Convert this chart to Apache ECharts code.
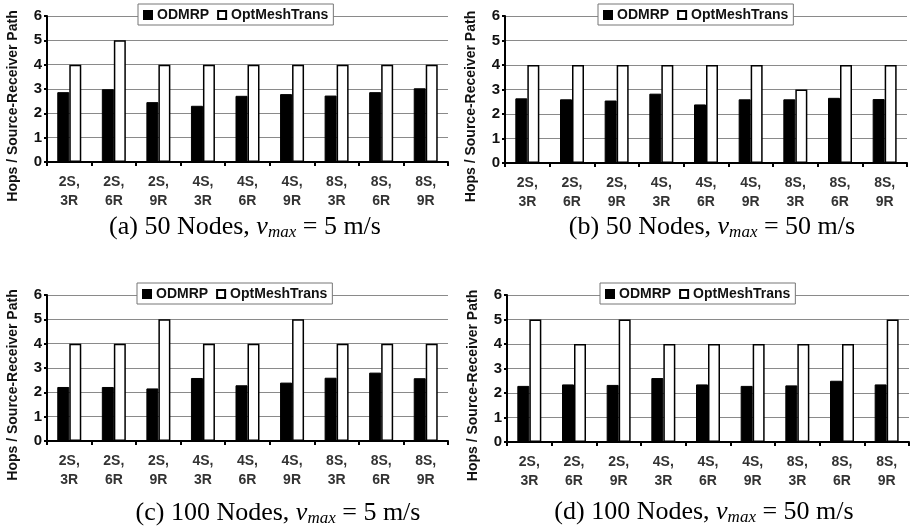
<!DOCTYPE html>
<html>
<head>
<meta charset="utf-8">
<script src="https://cdn.jsdelivr.net/npm/echarts@6/dist/echarts.min.js"></script>
<style>
    html, body { margin: 0; padding: 0; background: #fff; }
    #chart { width: 911px; height: 528px; }
</style>
</head>
<body>
<div id="chart"></div>
<script>
(function () {

    'use strict';

    // x categories: sources, receivers
    var categories = ['2S,\n3R', '2S,\n6R', '2S,\n9R', '4S,\n3R', '4S,\n6R', '4S,\n9R', '8S,\n3R', '8S,\n6R', '8S,\n9R'];
    var yTicks = [0, 1, 2, 3, 4, 5, 6];

    // hops per source-receiver path
    var odmrpA = [2.87, 2.99, 2.46, 2.31, 2.72, 2.79, 2.73, 2.87, 3.03];
    var optA = [4, 5, 4, 4, 4, 4, 4, 4, 4];
    var odmrpB = [2.64, 2.60, 2.55, 2.83, 2.39, 2.60, 2.60, 2.66, 2.61];
    var optB = [4, 4, 4, 4, 4, 4, 3, 4, 4];
    var odmrpC = [2.22, 2.22, 2.16, 2.59, 2.29, 2.40, 2.60, 2.81, 2.58];
    var optC = [4, 4, 5, 4, 4, 5, 4, 4, 4];
    var odmrpD = [2.29, 2.35, 2.33, 2.61, 2.35, 2.29, 2.31, 2.50, 2.35];
    var optD = [5, 4, 5, 4, 4, 4, 4, 4, 5];

    var captions = [
        ['(a) 50 Nodes, ', ' = 5 m/s'],
        ['(b) 50 Nodes, ', ' = 50 m/s'],
        ['(c) 100 Nodes, ', ' = 5 m/s'],
        ['(d) 100 Nodes, ', ' = 50 m/s']
    ];
    var odmrpData = [odmrpA, odmrpB, odmrpC, odmrpD];
    var optData = [optA, optB, optC, optD];

    // panel layout
    var grids = [
        {left: 47, top: 16, width: 401, height: 146},
        {left: 505, top: 16, width: 402, height: 147},
        {left: 47, top: 295, width: 401, height: 146},
        {left: 507, top: 295, width: 402, height: 147}
    ];
    var legendPos = [
        {left: 138, top: 4},
        {left: 598, top: 4},
        {left: 137, top: 283},
        {left: 600, top: 283}
    ];
    var captionPos = [
        {left: 245, top: 213},
        {left: 712, top: 213},
        {left: 278, top: 499},
        {left: 704, top: 498}
    ];

    var sans = '"Liberation Sans", Arial, sans-serif';
    var serif = '"Liberation Serif", "Times New Roman", serif';

    var option = {
        backgroundColor: '#fff',
        animation: false,
        title: [],
        legend: [],
        grid: [],
        xAxis: [],
        yAxis: [],
        series: []
    };

    for (var i = 0; i < 4; i++) {
        option.grid.push(grids[i]);

        option.title.push({
            left: captionPos[i].left,
            top: captionPos[i].top,
            textAlign: 'center',
            padding: 0,
            text: captions[i][0] + '{v|v}{s|max}' + captions[i][1],
            textStyle: {
                fontFamily: serif,
                fontSize: 26,
                fontWeight: 'normal',
                color: '#000',
                lineHeight: 28,
                rich: {
                    v: {fontFamily: serif, fontSize: 26, fontStyle: 'italic', color: '#000', lineHeight: 28},
                    s: {fontFamily: serif, fontSize: 17, fontStyle: 'italic', color: '#000', verticalAlign: 'bottom', lineHeight: 17}
                }
            }
        });

        option.legend.push({
            left: legendPos[i].left,
            top: legendPos[i].top,
            data: ['ODMRP', 'OptMeshTrans'],
            icon: 'rect',
            itemWidth: 8,
            itemHeight: 8,
            itemGap: 8,
            padding: [4, 5, 3, 5],
            backgroundColor: '#fff',
            borderColor: '#777',
            borderWidth: 1,
            borderRadius: 0,
            selectedMode: false,
            textStyle: {
                fontFamily: sans,
                fontSize: 14,
                fontWeight: 'bold',
                color: '#111'
            }
        });

        option.xAxis.push({
            type: 'category',
            gridIndex: i,
            data: categories,
            axisLine: {lineStyle: {color: '#000', width: 2}},
            axisTick: {show: true, length: 4, lineStyle: {color: '#000', width: 2}},
            axisLabel: {
                interval: 0,
                margin: 11,
                fontFamily: sans,
                fontSize: 14,
                fontWeight: 'bold',
                color: '#333',
                lineHeight: 19
            },
            splitLine: {show: false}
        });

        option.yAxis.push({
            type: 'value',
            gridIndex: i,
            min: yTicks[0],
            max: yTicks[yTicks.length - 1],
            interval: 1,
            name: 'Hops / Source-Receiver Path',
            nameLocation: 'middle',
            nameGap: 27,
            nameTextStyle: {
                fontFamily: sans,
                fontSize: 14,
                fontWeight: 'bold',
                color: '#111',
                padding: [0, 34, 0, 0]
            },
            axisLine: {show: true, lineStyle: {color: '#000', width: 2}},
            axisTick: {show: true, length: 3, lineStyle: {color: '#000', width: 2}},
            axisLabel: {
                margin: 5,
                fontFamily: sans,
                fontSize: 15,
                fontWeight: 'bold',
                color: '#111'
            },
            splitLine: {show: true, lineStyle: {color: '#8a8a8a', width: 1}}
        });

        option.series.push({
            name: 'ODMRP',
            type: 'bar',
            xAxisIndex: i,
            yAxisIndex: i,
            data: odmrpData[i],
            barWidth: 12,
            barGap: '0%',
            itemStyle: {color: '#000', borderColor: '#000', borderWidth: 1}
        });
        option.series.push({
            name: 'OptMeshTrans',
            type: 'bar',
            xAxisIndex: i,
            yAxisIndex: i,
            data: optData[i],
            barWidth: 12,
            barGap: '0%',
            itemStyle: {color: '#fff', borderColor: '#000', borderWidth: 1.5}
        });
    }

    var chart = echarts.init(document.getElementById('chart'), null, {renderer: 'canvas'});
    chart.setOption(option);

}) ();
</script>
</body>
</html>
